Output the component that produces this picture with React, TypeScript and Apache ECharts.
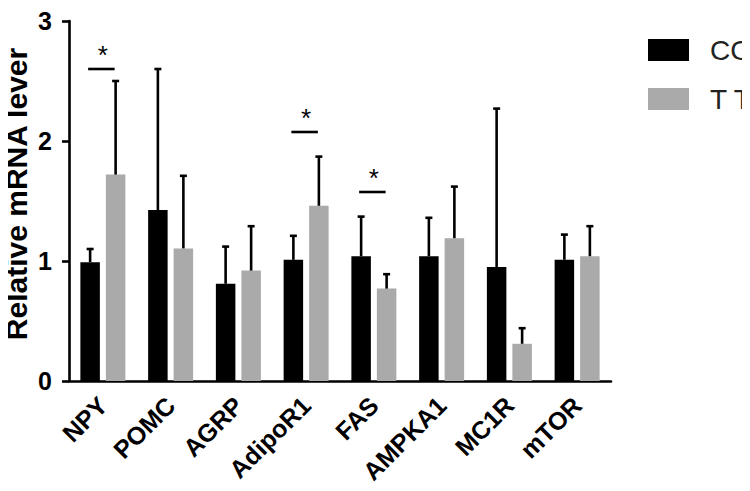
import React, { useEffect, useRef } from "react";
import * as echarts from "echarts";

const categories = ["NPY", "POMC", "AGRP", "AdipoR1", "FAS", "AMPKA1", "MC1R", "mTOR"];
const ccMean = [0.99, 1.425, 0.81, 1.01, 1.04, 1.04, 0.95, 1.01];
const ccSD = [0.11, 1.175, 0.31, 0.2, 0.33, 0.32, 1.32, 0.21];
const ttMean = [1.72, 1.105, 0.92, 1.46, 0.77, 1.19, 0.31, 1.04];
const ttSD = [0.78, 0.605, 0.37, 0.41, 0.12, 0.43, 0.13, 0.25];
const seriesNames = ["CC", "T T"];
const yTicks = [0, 1, 2, 3];
const sigMarks = [
  { cat: 0, y: 2.6 },
  { cat: 3, y: 2.075 },
  { cat: 4, y: 1.575 },
];

const FONT = "Liberation Sans, Arial, sans-serif";
const BAR_W = 19.5;
const BAR_GAP = 6;
const OFFSET = (BAR_W + BAR_GAP) / 2;

function errSeries(mean: number[], sd: number[], offset: number) {
  return {
    type: "custom",
    z: 5,
    silent: true,
    encode: { x: 0, y: [1, 2] },
    data: mean.map((m, i) => [i, m, m + sd[i]]),
    renderItem: (_params: any, api: any) => {
      const idx = api.value(0);
      const p0 = api.coord([idx, api.value(1)]);
      const p1 = api.coord([idx, api.value(2)]);
      const bx = p0[0] + offset;
      const st = { stroke: "#000", lineWidth: 2.6 };
      return {
        type: "group",
        children: [
          { type: "line", shape: { x1: bx, y1: p0[1], x2: bx, y2: p1[1] }, style: st },
          { type: "line", shape: { x1: bx - 3.5, y1: p1[1], x2: bx + 3.5, y2: p1[1] }, style: st },
        ],
      };
    },
  };
}

export default function App() {
  const ref = useRef<HTMLDivElement>(null);
  useEffect(() => {
    if (!ref.current) return;
    const chart = echarts.init(ref.current, null, { renderer: "svg" });
    chart.setOption({
      animation: false,
      backgroundColor: "#fff",
      grid: {
        left: 69,
        right: 139,
        top: 21,
        bottom: 110,
        containLabel: false,
        outerBoundsMode: "none",
      },
      legend: {
        data: seriesNames,
        left: 648,
        top: 35,
        orient: "vertical",
        padding: 0,
        itemWidth: 41,
        itemHeight: 22,
        itemGap: 19,
        icon: "rect",
        textStyle: {
          fontFamily: FONT,
          fontSize: 28,
          color: "#222",
          lineHeight: 22,
          padding: [0, 0, 8, 16],
        },
      },
      xAxis: {
        type: "category",
        data: categories,
        axisLine: { lineStyle: { color: "#000", width: 2.6 } },
        axisTick: { alignWithLabel: true, length: 10, lineStyle: { color: "#000", width: 2.6 } },
        axisLabel: {
          rotate: 45,
          margin: 20,
          fontFamily: FONT,
          fontSize: 25,
          fontWeight: "bold",
          color: "#000",
        },
      },
      yAxis: {
        type: "value",
        min: yTicks[0],
        max: yTicks[yTicks.length - 1],
        interval: 1,
        splitLine: { show: false },
        axisLine: { show: true, lineStyle: { color: "#000", width: 2.6 } },
        axisTick: { show: true, length: 7, lineStyle: { color: "#000", width: 2.6 } },
        axisLabel: {
          margin: 17,
          fontFamily: FONT,
          fontSize: 25,
          fontWeight: "bold",
          color: "#000",
        },
        name: "Relative mRNA lever",
        nameLocation: "middle",
        nameRotate: 90,
        nameGap: 38,
        nameMoveOverlap: false,
        nameTextStyle: {
          fontFamily: FONT,
          fontSize: 30,
          fontWeight: "bold",
          color: "#000",
          padding: [0, 0, 0, 14],
        },
      },
      series: [
        {
          name: seriesNames[0],
          type: "bar",
          data: ccMean,
          barWidth: BAR_W,
          barGap: (BAR_GAP / BAR_W) * 100 + "%",
          itemStyle: { color: "#000" },
        },
        {
          name: seriesNames[1],
          type: "bar",
          data: ttMean,
          barWidth: BAR_W,
          barGap: (BAR_GAP / BAR_W) * 100 + "%",
          itemStyle: { color: "#aaaaaa" },
        },
        errSeries(ccMean, ccSD, -OFFSET),
        errSeries(ttMean, ttSD, OFFSET),
        {
          type: "custom",
          z: 6,
          silent: true,
          encode: { x: 0, y: 1 },
          data: sigMarks.map((s) => [s.cat, s.y]),
          renderItem: (_params: any, api: any) => {
            const p = api.coord([api.value(0), api.value(1)]);
            return {
              type: "group",
              children: [
                {
                  type: "line",
                  shape: { x1: p[0] - OFFSET - 2, y1: p[1], x2: p[0] + OFFSET - 1, y2: p[1] },
                  style: { stroke: "#000", lineWidth: 2.6 },
                },
                {
                  type: "text",
                  x: p[0],
                  y: p[1] - 14,
                  style: {
                    text: "*",
                    fontFamily: FONT,
                    fontSize: 26,
                    fill: "#000",
                    align: "center",
                    verticalAlign: "middle",
                  },
                },
              ],
            };
          },
        },
      ],
    });
    return () => chart.dispose();
  }, []);
  return <div ref={ref} style={{ width: 750, height: 491, margin: -8 }} />;
}
